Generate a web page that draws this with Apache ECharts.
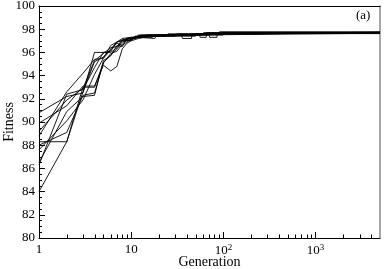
<!DOCTYPE html>
<html>
<head>
<meta charset="utf-8">
<script src="https://cdn.jsdelivr.net/npm/echarts@6/dist/echarts.min.js"></script>
<style>html,body{margin:0;padding:0;background:#fff}#c{width:388px;height:269px}</style>
</head>
<body>
<div id="c"></div>
<script>
// ---- data ----
const yTicks = [80, 82, 84, 86, 88, 90, 92, 94, 96, 98, 100];
const xTickLabels = {1: '1', 10: '10', 100: '10{sup|2}', 1000: '10{sup|3}'};
const xMinorTicks = [2,3,4,5,6,7,8,9,20,30,40,50,60,70,80,90,200,300,400,500,600,700,800,900,2000,3000,4000];
const runA = [[1,84.0],[2,88.3],[3,92.6],[4,95.2],[5,95.6],[6,96.3],[7,96.9],[8,97.0],[10,97.1],[12,97.4],[20,97.4],[21,97.5],[60,97.5],[61,97.7],[5000,97.7]];
const runB = [[1,88.3],[2,88.3],[3,93.0],[4,93.0],[5,95.1],[6,95.9],[7,96.1],[8,96.7],[9,97.1],[11,97.3],[13,97.5],[35,97.5],[36,97.2],[45,97.2],[46,97.6],[120,97.6],[121,97.75],[5000,97.75]];
const runC = [[1,86.5],[2,90.9],[3,92.2],[4,92.3],[5,95.3],[6,95.7],[7,96.6],[8,96.5],[9,97.2],[14,97.3],[15,97.5],[70,97.5],[71,97.3],[85,97.3],[86,97.6],[200,97.6],[201,97.7],[5000,97.7]];
const runD = [[1,90.8],[2,92.2],[3,92.5],[4,96.0],[6,96.0],[7,96.4],[8,97.0],[10,97.3],[11,97.2],[12,97.5],[25,97.5],[26,97.6],[90,97.6],[91,97.78],[5000,97.78]];
const runE = [[1,89.9],[2,91.4],[3,93.1],[4,93.1],[5,94.9],[6,94.4],[7,94.8],[8,96.3],[9,96.8],[10,97.0],[12,97.2],[16,97.4],[30,97.4],[31,97.6],[150,97.6],[151,97.7],[5000,97.7]];
const runF = [[1,87.6],[2,90.1],[3,91.9],[4,94.1],[5,95.5],[6,96.2],[7,96.8],[8,96.6],[9,96.9],[11,97.3],[17,97.3],[18,97.5],[40,97.5],[41,97.65],[5000,97.65]];
const runG = [[1,89.2],[2,91.9],[3,92.9],[4,95.3],[5,95.9],[6,96.4],[7,96.5],[8,97.1],[10,97.0],[11,97.4],[24,97.4],[25,97.6],[250,97.6],[251,97.72],[5000,97.72]];
const runH = [[1,88.0],[2,89.1],[3,92.3],[4,92.5],[5,95.1],[6,95.8],[7,96.3],[8,96.9],[9,97.0],[12,97.3],[18,97.2],[19,97.5],[100,97.5],[101,97.7],[5000,97.7]];
const runI = [[1,86.3],[2,92.4],[3,92.8],[4,94.7],[5,96.0],[6,96.1],[7,96.9],[9,97.2],[13,97.4],[50,97.4],[51,97.62],[5000,97.62]];
const runJ = [[1,88.8],[2,92.6],[3,94.2],[4,95.4],[5,95.5],[6,96.6],[7,96.9],[8,97.2],[10,97.3],[15,97.5],[55,97.5],[56,97.3],[65,97.3],[66,97.7],[5000,97.7]];
const runs = [runA, runB, runC, runD, runE, runF, runG, runH, runI, runJ];
const panelLabel = '(a)';

const FONT = 'Liberation Serif';
const chart = echarts.init(document.getElementById('c'), null, {renderer: 'canvas'});
const yMin = yTicks[0], yMax = yTicks[yTicks.length - 1];

const series = runs.map(r => ({
  type: 'line', data: r, symbol: 'none', xAxisIndex: 0, yAxisIndex: 0,
  lineStyle: {color: '#000', width: 0.9}, silent: true, z: 3
}));
series.push({
  type: 'custom', xAxisIndex: 0, yAxisIndex: 0, silent: true, z: 4,
  data: xMinorTicks.map(v => [v, yMin]),
  renderItem: function (params, api) {
    const p = api.coord([api.value(0), api.value(1)]);
    const x = Math.round(p[0]) + 0.5;
    return {type: 'line', shape: {x1: x, y1: p[1], x2: x, y2: p[1] - 3.5},
      style: {stroke: '#000', lineWidth: 1}};
  }
});

chart.setOption({
  animation: false,
  textStyle: {fontFamily: FONT},
  grid: {left: 39, right: 8, top: 6, bottom: 31, containLabel: false, outerBoundsMode: 'none'},
  xAxis: [{
    type: 'log', logBase: 10, min: 1, max: 5000, position: 'bottom',
    name: 'Generation', nameLocation: 'middle', nameGap: 17, nameMoveOverlap: false,
    nameTextStyle: {fontFamily: FONT, fontSize: 14, color: '#000'},
    axisLine: {show: true, lineStyle: {color: '#000', width: 1}},
    axisTick: {show: true, inside: true, length: 6, lineStyle: {color: '#000'}},
    splitLine: {show: false}, minorTick: {show: false},
    axisLabel: {
      margin: 5, color: '#000', fontFamily: FONT, fontSize: 13, showMaxLabel: false,
      formatter: v => xTickLabels[Math.round(v)] || '',
      rich: {sup: {fontSize: 9, verticalAlign: 'top', padding: [0, 0, 7, 0], fontFamily: FONT, color: '#000'}}
    }
  }, {
    type: 'log', logBase: 10, min: 1, max: 5000, position: 'top',
    axisLine: {show: true, lineStyle: {color: '#000', width: 1}},
    axisTick: {show: false}, axisLabel: {show: false}, splitLine: {show: false}
  }],
  yAxis: [{
    type: 'value', min: yMin, max: yMax, interval: 2, position: 'left',
    name: 'Fitness', nameLocation: 'middle', nameGap: 23, nameRotate: 90, nameMoveOverlap: false,
    nameTextStyle: {fontFamily: FONT, fontSize: 14, color: '#000'},
    axisLine: {show: true, lineStyle: {color: '#000', width: 1}},
    axisTick: {show: true, inside: true, length: 6, lineStyle: {color: '#000'}},
    minorTick: {show: true, splitNumber: 4, length: 3, lineStyle: {color: '#000'}},
    splitLine: {show: false}, minorSplitLine: {show: false},
    axisLabel: {margin: 4, color: '#000', fontFamily: FONT, fontSize: 13}
  }, {
    type: 'value', min: yMin, max: yMax, interval: 2, position: 'right',
    axisLine: {show: true, lineStyle: {color: '#8a8a8a', width: 1.5}},
    axisTick: {show: false}, axisLabel: {show: false}, splitLine: {show: false}
  }],
  graphic: [{
    type: 'text', left: 356, top: 9,
    style: {text: panelLabel, font: '13px "Liberation Serif"', fill: '#000'}
  }],
  series: series
});
</script>
</body>
</html>
